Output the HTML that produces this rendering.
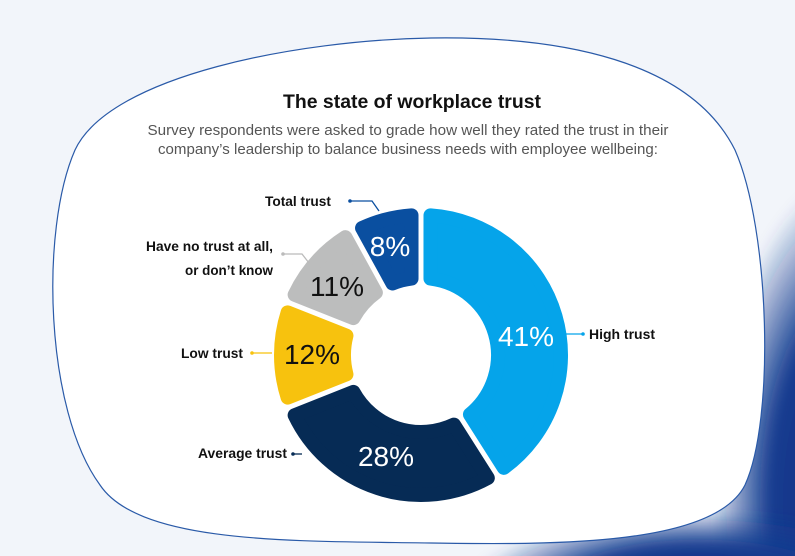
<!DOCTYPE html>
<html><head><meta charset="utf-8"><style>
html,body{margin:0;padding:0;background:#f2f5fa;overflow:hidden;width:795px;height:556px;}
svg{display:block;font-family:"Liberation Sans",sans-serif;}
</style></head><body>
<svg id="s" width="795" height="556" viewBox="0 0 795 556" xmlns="http://www.w3.org/2000/svg">
<defs>
<radialGradient id="g" cx="0.5" cy="0.5" r="0.5">
<stop offset="0" stop-color="#0b2a7e"/><stop offset="0.6" stop-color="#143c90"/><stop offset="1" stop-color="#143c90" stop-opacity="0"/>
</radialGradient>
<filter id="b"><feGaussianBlur stdDeviation="6"/></filter>
</defs>
<rect width="795" height="556" fill="#f2f5fa"/>
<ellipse cx="860" cy="500" rx="150" ry="330" fill="url(#g)" filter="url(#b)"/>
<ellipse cx="700" cy="600" rx="240" ry="90" fill="url(#g)" filter="url(#b)"/>
<path d="M431,38 C560,36 690,60 735,150 C770,230 775,420 745,485 C715,545 560,545 431,543 C300,541 140,545 100,485 C45,410 40,230 75,150 C110,75 300,40 431,38 Z" fill="#fff" stroke="#2a5aa8" stroke-width="1.2"/>
<text x="412" y="108" text-anchor="middle" font-size="19" font-weight="bold" fill="#111" textLength="258" lengthAdjust="spacingAndGlyphs">The state of workplace trust</text>
<text x="408" y="135" text-anchor="middle" font-size="14.5" fill="#555" textLength="521" lengthAdjust="spacingAndGlyphs">Survey respondents were asked to grade how well they rated the trust in their</text>
<text x="408" y="154" text-anchor="middle" font-size="14.5" fill="#555" textLength="500" lengthAdjust="spacingAndGlyphs">company’s leadership to balance business needs with employee wellbeing:</text>
<g id="donut"></g>
<g font-size="14" font-weight="bold" fill="#111">
<text x="331" y="206" text-anchor="end" textLength="66" lengthAdjust="spacingAndGlyphs">Total trust</text>
<text x="273" y="251" text-anchor="end" textLength="127" lengthAdjust="spacingAndGlyphs">Have no trust at all,</text>
<text x="273" y="275" text-anchor="end" textLength="88" lengthAdjust="spacingAndGlyphs">or don’t know</text>
<text x="243" y="358" text-anchor="end" textLength="62" lengthAdjust="spacingAndGlyphs">Low trust</text>
<text x="287" y="458" text-anchor="end" textLength="89" lengthAdjust="spacingAndGlyphs">Average trust</text>
<text x="589" y="339" textLength="66" lengthAdjust="spacingAndGlyphs">High trust</text>
</g>
<g fill="none" stroke-width="1.3">
<polyline points="350,201 372,201 379,211" stroke="#0a4fa0"/><circle cx="350" cy="201" r="1.8" fill="#0a4fa0"/>
<polyline points="283,254 302,254 309,263" stroke="#bbb"/><circle cx="283" cy="254" r="1.8" fill="#bbb"/>
<polyline points="252,353 272,353" stroke="#f7c20e"/><circle cx="252" cy="353" r="1.8" fill="#f7c20e"/>
<polyline points="293,454 302,454" stroke="#062b55"/><circle cx="293" cy="454" r="1.8" fill="#062b55"/>
<polyline points="565,334 583,334" stroke="#05a4ea"/><circle cx="583" cy="334" r="1.8" fill="#05a4ea"/>
</g>
<g font-size="28" text-anchor="middle">
<text x="390" y="256" fill="#fff">8%</text>
<text x="337" y="296" fill="#111">11%</text>
<text x="312" y="364" fill="#111">12%</text>
<text x="526" y="346" fill="#fff">41%</text>
<text x="386" y="466" fill="#fff">28%</text>
</g>
</svg>
<script>
(function(){
var cx=421,cy=355,RO=147,RI=70,sw=14,ro=RO-sw/2,ri=RI+sw/2,off=(5+sw)/2;
var segs=[[0,41,"#05a4ea"],[41,69,"#062b55"],[69,81,"#f7c20e"],[81,92,"#bcbdbd"],[92,100,"#0a4fa0"]];
function pt(r,a){return [cx+r*Math.sin(a),cy-r*Math.cos(a)];}
var g=document.getElementById("donut"),h="";
segs.forEach(function(s){
var a0=s[0]/100*2*Math.PI,a1=s[1]/100*2*Math.PI;
var a0o=a0+off/ro,a1o=a1-off/ro,a0i=a0+off/ri,a1i=a1-off/ri;
var p1=pt(ro,a0o),p2=pt(ro,a1o),p3=pt(ri,a1i),p4=pt(ri,a0i);
var lg=(a1o-a0o)>Math.PI?1:0,lgi=(a1i-a0i)>Math.PI?1:0;
var d="M"+p1+" A"+ro+","+ro+" 0 "+lg+" 1 "+p2+" L"+p3+" A"+ri+","+ri+" 0 "+lgi+" 0 "+p4+" Z";
h+='<path d="'+d+'" fill="'+s[2]+'" stroke="'+s[2]+'" stroke-width="'+sw+'" stroke-linejoin="round"/>';
});
g.innerHTML=h;
})();
</script>
</body></html>
